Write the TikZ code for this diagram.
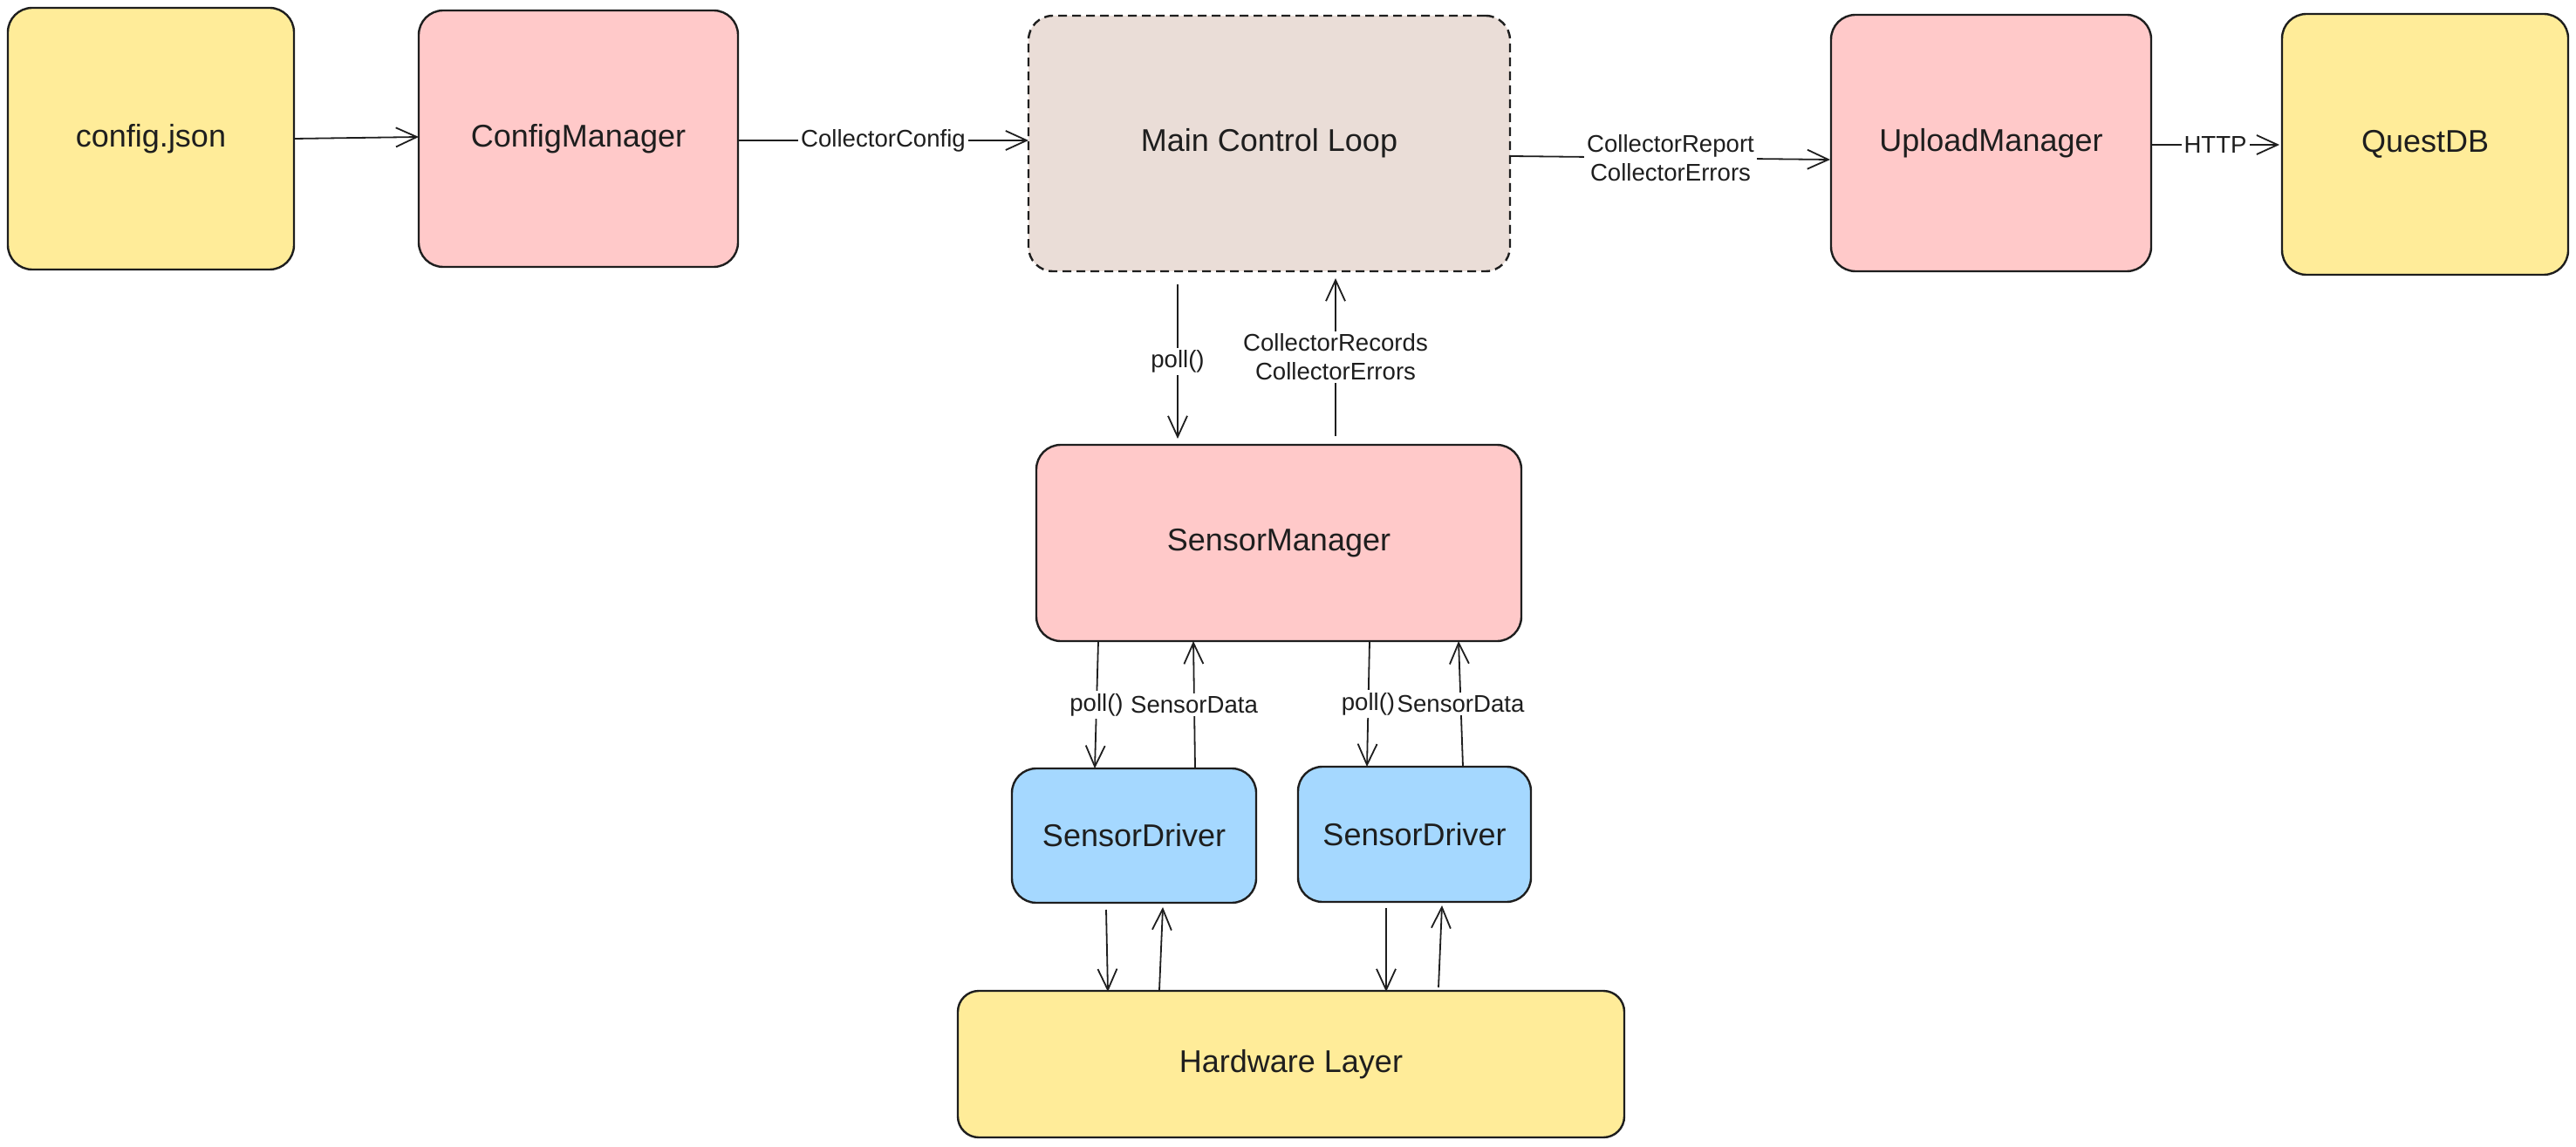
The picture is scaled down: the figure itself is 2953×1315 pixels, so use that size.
\documentclass[tikz,border=0pt]{standalone}
\usepackage{fontspec}
\setmainfont{Liberation Sans}
\usetikzlibrary{arrows.meta,calc}
\definecolor{ink}{HTML}{1E1E1E}
\definecolor{yel}{HTML}{FFEC99}
\definecolor{pnk}{HTML}{FFC9C9}
\definecolor{blu}{HTML}{A5D8FF}
\definecolor{brn}{HTML}{EADDD7}
\tikzset{
  box/.style={draw=ink, line width=1.2pt, rounded corners=14pt, inner sep=0pt, outer sep=0pt,
    font=\fontsize{18}{21}\selectfont, text=ink, align=center},
  arr/.style={draw=ink, line width=0.9pt, -{Straight Barb[length=12pt,width=11pt,line width=0.9pt]}},
  lbl/.style={fill=white, inner sep=1.5pt, font=\fontsize{13.8}{16.5}\selectfont, text=ink, align=center}
}
\begin{document}
\begin{tikzpicture}[x=0.5pt,y=-0.5pt]
\useasboundingbox (0,0) rectangle (2953,1315);
\node[box, fill=yel, minimum width=164pt, minimum height=150pt] (cfg) at (173,159) {config.json};
\node[box, fill=pnk, minimum width=183pt, minimum height=147pt] (cm) at (663,159) {ConfigManager};
\node[box, fill=brn, dashed, dash pattern=on 5pt off 3pt, minimum width=276pt, minimum height=146.5pt] (main) at (1455,164.5) {Main Control Loop};
\node[box, fill=pnk, minimum width=183.5pt, minimum height=147pt] (up) at (2282.5,164) {UploadManager};
\node[box, fill=yel, minimum width=164pt, minimum height=149.5pt] (qdb) at (2780,165.5) {QuestDB};
\node[box, fill=pnk, minimum width=278pt, minimum height=112.5pt] (sm) at (1466,622.5) {SensorManager};
\node[box, fill=blu, minimum width=140pt, minimum height=77pt] (sd1) at (1300,958) {SensorDriver};
\node[box, fill=blu, minimum width=133.5pt, minimum height=77.5pt] (sd2) at (1621.5,956.5) {SensorDriver};
\node[box, fill=yel, rounded corners=12pt, minimum width=382pt, minimum height=84pt] (hw) at (1480,1220) {Hardware Layer};

\draw[arr] (cfg.east) -- ($(cm.west)+(0,-2)$);
\draw[arr] ($(cm.east)+(0,2)$) -- node[lbl] {CollectorConfig} ($(main.west)+(0,-3.5)$);
\draw[arr] ($(main.east)+(1,14.5)$) -- node[lbl] {CollectorReport\\CollectorErrors} ($(up.west)+(-1,19)$);
\draw[arr] ($(up.east)+(0,2)$) -- node[lbl] {HTTP} ($(qdb.west)+(-3,0.5)$);
\draw[arr] ($(main.south)+(-105,15)$) -- node[lbl] {poll()} ($(sm.north)+(-116,-7)$);
\draw[arr] ($(sm.north)+(65,-10)$) -- node[lbl] {CollectorRecords\\CollectorErrors} ($(main.south)+(76,8)$);

\draw[arr] ($(sm.south)+(-207,0)$) -- node[lbl] {poll()} ($(sd1.north)+(-45,0)$);
\draw[arr] ($(sd1.north)+(70,0)$) -- node[lbl] {SensorData} ($(sm.south)+(-98,0)$);
\draw[arr] ($(sm.south)+(104,0)$) -- node[lbl] {poll()} ($(sd2.north)+(-54.5,0)$);
\draw[arr] ($(sd2.north)+(55.5,0)$) -- node[lbl] {SensorData} ($(sm.south)+(206,0)$);

\draw[arr] ($(sd1.south)+(-32,8)$) -- ($(hw.north)+(-210,1)$);
\draw[arr] ($(hw.north)+(-151,-1)$) -- ($(sd1.south)+(33,5)$);
\draw[arr] ($(sd2.south)+(-32.5,7)$) -- ($(hw.north)+(109,1)$);
\draw[arr] ($(hw.north)+(169,-4)$) -- ($(sd2.south)+(31.5,4)$);
\end{tikzpicture}
\end{document}
